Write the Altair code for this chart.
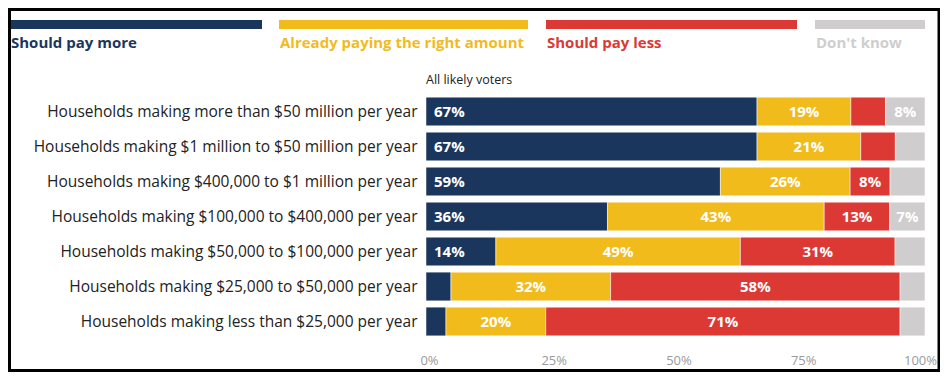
import altair as alt
import pandas as pd

groups = [
    "Households making more than $50 million per year",
    "Households making $1 million to $50 million per year",
    "Households making $400,000 to $1 million per year",
    "Households making $100,000 to $400,000 per year",
    "Households making $50,000 to $100,000 per year",
    "Households making $25,000 to $50,000 per year",
    "Households making less than $25,000 per year",
]
responses = ["Should pay more", "Already paying the right amount", "Should pay less", "Don't know"]
colors = ["#1b365d", "#f2bb1c", "#dc3934", "#d0cdce"]

should_pay_more = [67, 67, 59, 36, 14, 5, 4]
right_amount = [19, 21, 26, 43, 49, 32, 20]
should_pay_less = [7, 7, 8, 13, 31, 58, 71]
dont_know = [8, 6, 7, 7, 6, 5, 5]

# whether the value label is printed inside the segment
show_more = [1, 1, 1, 1, 1, 0, 0]
show_right = [1, 1, 1, 1, 1, 1, 1]
show_less = [0, 0, 1, 1, 1, 1, 1]
show_dk = [1, 0, 0, 1, 0, 0, 0]

series = [should_pay_more, right_amount, should_pay_less, dont_know]
shows = [show_more, show_right, show_less, show_dk]

rows = []
for i, g in enumerate(groups):
    for j, r in enumerate(responses):
        rows.append({"group": g, "response": r, "order": j,
                     "value": series[j][i], "show": shows[j][i],
                     "label": f"{series[j][i]}%"})
df = pd.DataFrame(rows)

FONT = "Open Sans"

base = alt.Chart(df).transform_stack(
    stack="value", groupby=["group"], sort=[alt.SortField("order")],
    as_=["x0", "x1"], offset="normalize"
)

yenc = alt.Y("group:N", sort=groups,
             scale=alt.Scale(paddingInner=0.18, paddingOuter=0.09),
             axis=alt.Axis(title=None, domain=False, ticks=False, labelFont=FONT,
                           labelFontSize=15.5, labelColor="#222222", labelPadding=9,
                           labelLimit=600))

bars = base.mark_rect(stroke="white", strokeWidth=0.5).encode(
    y=yenc,
    x=alt.X("x0:Q", scale=alt.Scale(domain=[0, 1], nice=False),
            axis=alt.Axis(title=None, format="%", values=[0, 0.25, 0.5, 0.75, 1],
                          grid=False, domain=False, ticks=False, labelFont=FONT,
                          labelFontSize=13, labelColor="#9a9a9a", labelPadding=15,
                          labelFlush=False,
                          labelOffset={"condition": {"test": "datum.value == 1", "value": -5},
                                       "value": 3})),
    x2="x1:Q",
    color=alt.Color("response:N", scale=alt.Scale(domain=responses, range=colors), legend=None),
)

txt_first = base.transform_filter("datum.order == 0 && datum.show == 1").mark_text(
    align="left", baseline="middle", dx=8, font=FONT, fontWeight="bold",
    fontSize=15, color="white"
).encode(y=alt.Y("group:N", sort=groups), x="x0:Q", text="label:N")

txt_rest = base.transform_filter("datum.order > 0 && datum.show == 1").transform_calculate(
    mid="(datum.x0 + datum.x1) / 2"
).mark_text(
    align="center", baseline="middle", font=FONT, fontWeight="bold",
    fontSize=15, color="white"
).encode(y=alt.Y("group:N", sort=groups), x="mid:Q", text="label:N")

# custom legend (layout positions in pixels relative to plot area)
legend_spans = [(-416, -164), (-147, 102), (120, 371), (389, 499)]
legend_layers = []
for j, r in enumerate(responses):
    d = alt.Data(values=[{"r": r}])
    x_a, x_b = legend_spans[j]
    legend_layers.append(
        alt.Chart(d).mark_rect(color=colors[j]).encode(
            x=alt.value(x_a), x2=alt.value(x_b), y=alt.value(-74), y2=alt.value(-65)))
    legend_layers.append(
        alt.Chart(d).mark_text(align="left", baseline="middle", font=FONT,
                               fontWeight="bold", fontSize=15, color=colors[j]).encode(
            x=alt.value(x_a + 1), y=alt.value(-51), text="r:N"))

subtitle = alt.Chart(alt.Data(values=[{"t": "All likely voters"}])).mark_text(
    align="left", baseline="middle", font=FONT, fontSize=12.5, color="#222222"
).encode(x=alt.value(0), y=alt.value(-14), text="t:N")

frame = alt.Chart(alt.Data(values=[{"a": 1}])).mark_rect(
    fillOpacity=0, stroke="black", strokeWidth=3
).encode(x=alt.value(-416.5), x2=alt.value(513), y=alt.value(-84.5), y2=alt.value(276.5))

chart = alt.layer(bars, txt_first, txt_rest, subtitle, *legend_layers, frame).properties(
    width=499, height=245,
    autosize=alt.AutoSizeParams(type="none"),
    padding={"left": 418, "top": 86, "right": 15, "bottom": 33},
    background="white",
).configure_view(stroke=None)

chart.save("out.html", embed_options={"renderer": "svg", "actions": False})
